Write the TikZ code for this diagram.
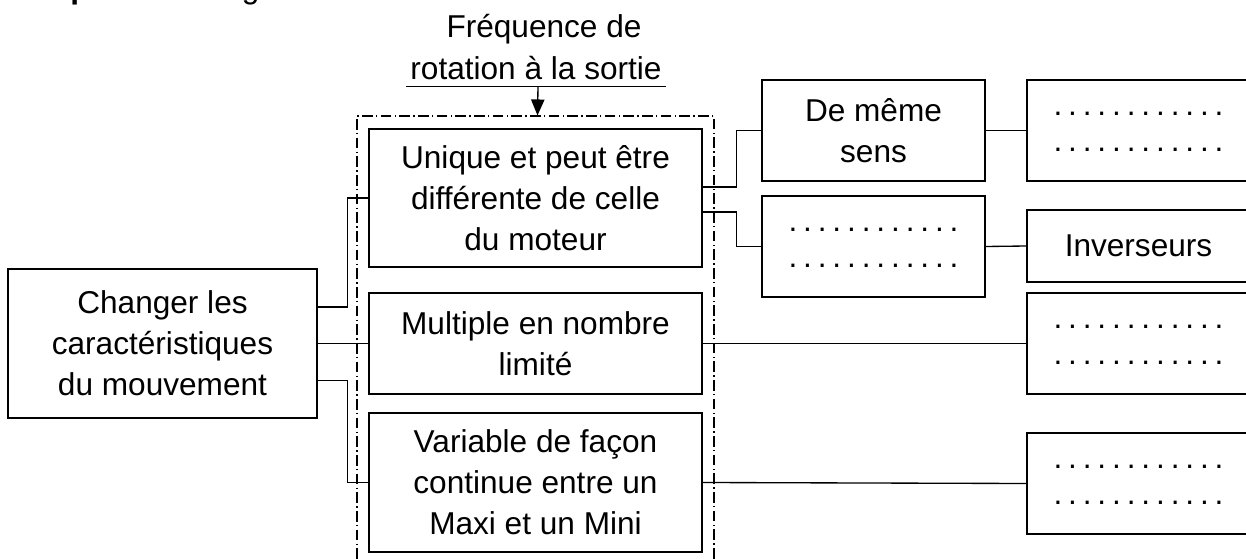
\documentclass[tikz,border=0pt]{standalone}
\usepackage{fontspec}
\setmainfont{Liberation Sans}
\usetikzlibrary{arrows.meta}
\newcommand{\dotrowx}{\foreach \i in {1,...,11}{.\hspace{4.4pt}}.}
\tikzset{
  box/.style={draw, line width=1.2pt, inner sep=0pt, align=center,
    font=\fontsize{23.7}{30.75}\selectfont},
  wide/.style={minimum width=249.75pt},
  small/.style={minimum width=167.25pt},
  dots/.style={font=\fontsize{23.7}{27}\selectfont, inner sep=0pt, align=center},
  conn/.style={line width=1pt},
  frame/.style={draw, line width=0.8pt, dash pattern=on 8pt off 2.4pt on 1.2pt off 2.4pt,
    minimum width=267.75pt, minimum height=344.25pt, inner sep=0pt},
  ttl/.style={font=\fontsize{23.7}{30.75}\selectfont, inner sep=0pt}
}
\begin{document}
\begin{tikzpicture}[x=0.75pt, y=-0.75pt]
\useasboundingbox (0,0) rectangle (1246,559);
\clip (0,0) rectangle (1246,559);

% header line (cut off at the top)
\node[ttl, anchor=base west] (hdr) at (0,-1) {\textbf{Complete:} le diagramme FAST suivant :};

% title
\node[ttl, anchor=base] (t1) at (544,38) {Fréquence de};
\node[ttl, anchor=base, inner xsep=3pt, inner ysep=4.5pt] (t2) at (536,80) {rotation à la sortie};
\draw[conn] (t2.south west) -- (t2.south east);

% dash-dot frame
\node[frame] (frame) at (535.5,345.5) {};
\draw[conn, -{Triangle[length=12pt, width=10pt]}] ([xshift=1.5pt]t2.south) -- ([xshift=1.5pt]frame.north);

% left box
\node[box, minimum width=231.75pt, minimum height=111.75pt] (L) at (162.5,343.5)
  {Changer les\\caractéristiques\\du mouvement};

% middle column
\node[box, wide, minimum height=103.5pt] (B1) at (535.5,198)
  {Unique et peut être\\différente de celle\\du moteur};
\node[box, wide, minimum height=75.75pt] (B2) at (535.5,343.5)
  {Multiple en nombre\\limité};
\node[box, wide, minimum height=104.25pt] (B3) at (535.5,482.5)
  {Variable de façon\\continue entre un\\Maxi et un Mini};

% second column
\node[box, small, minimum height=75.75pt] (D1) at (873.5,130.5) {De même\\sens};
\node[box, small, minimum height=75.75pt] (D2) at (873.5,246.5) {};
\node[dots] (D2t) at (873.5,248) {\dotrowx\\\dotrowx};

% right column
\node[box, small, minimum height=75.75pt] (R1) at (1138.5,130.5) {};
\node[dots] (R1t) at (1138.5,132) {\dotrowx\\\dotrowx};
\node[box, small, minimum height=54pt] (R2) at (1138.5,246) {Inverseurs};
\node[box, small, minimum height=75.75pt] (R3) at (1138.5,343.5) {};
\node[dots] (R3t) at (1138.5,345) {\dotrowx\\\dotrowx};
\node[box, small, minimum height=75.75pt] (R4) at (1138.5,483.5) {};
\node[dots] (R4t) at (1138.5,485) {\dotrowx\\\dotrowx};

% connectors
\draw[conn] ([yshift=27.4pt]L.east) -| ([xshift=-15.75pt]B1.west) -- (B1.west);
\draw[conn] (L.east) -- (B2.west);
\draw[conn] ([yshift=-28pt]L.east) -| ([xshift=-15.75pt]B3.west) -- (B3.west);

\draw[conn] ([yshift=8.25pt]B1.east) -| ([xshift=-18.75pt]D1.west) -- (D1.west);
\draw[conn] ([yshift=-10.5pt]B1.east) -| ([xshift=-18.75pt]D2.west) -- (D2.west);

\draw[conn] (D1.east) -- (R1.west);
\draw[conn] (D2.east) -- (R2.west);
\draw[conn] (B2.east) -- (R3.west);
\draw[conn] (B3.east) -- (R4.west);
\end{tikzpicture}
\end{document}
